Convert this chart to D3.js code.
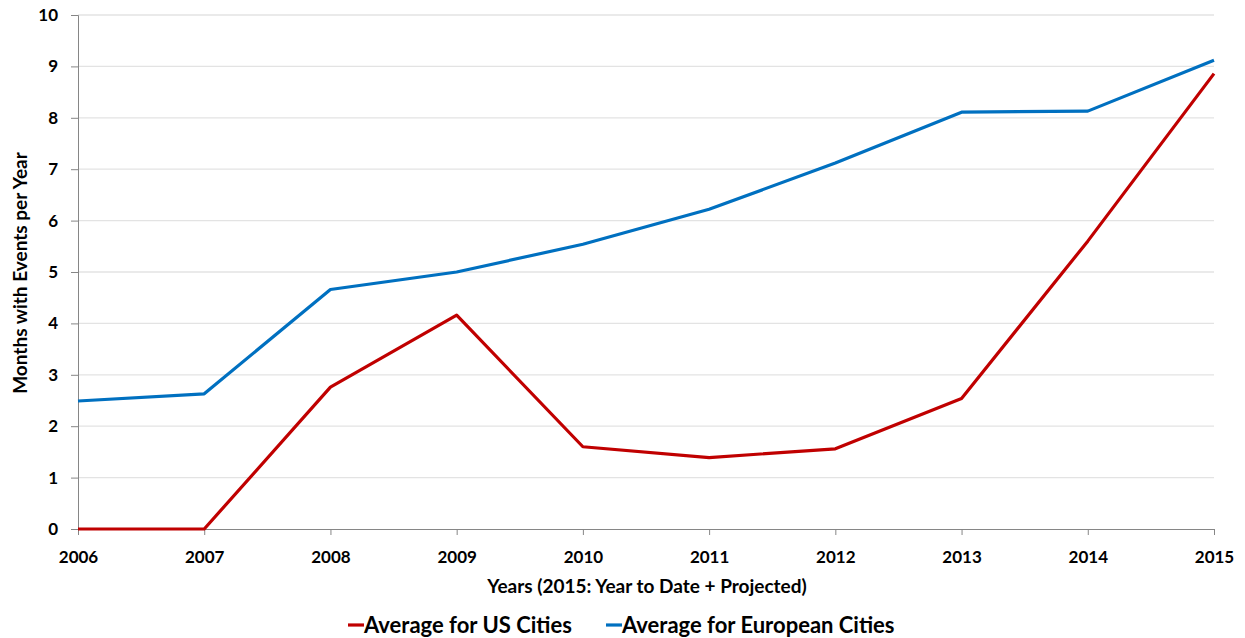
<!DOCTYPE html>
<html>
<head>
<meta charset="utf-8">
<script src="https://cdn.jsdelivr.net/npm/d3@7"></script>
<style>
  body { margin: 0; background: #fff; }
  svg { display: block; font-family: Lato, "Open Sans", sans-serif; font-weight: bold; }
</style>
</head>
<body>
<svg id="chart" width="1245" height="638"></svg>
<script>
// Years on the x axis
const years = [2006, 2007, 2008, 2009, 2010, 2011, 2012, 2013, 2014, 2015];
// Average months per year with events
const usCities = [0, 0, 2.76, 4.16, 1.60, 1.39, 1.56, 2.54, 5.60, 8.86];
const europeanCities = [2.49, 2.63, 4.66, 5.00, 5.54, 6.22, 7.12, 8.11, 8.13, 9.12];
const yTicks = [0, 1, 2, 3, 4, 5, 6, 7, 8, 9, 10];
const seriesNames = ["Average for US Cities", "Average for European Cities"];
const seriesColors = ["#C00000", "#0070C0"];

const svg = d3.select("#chart");
const plotLeft = 78, plotRight = 1214, plotTop = 15, plotBottom = 529;

const x = d3.scaleLinear().domain([2006, 2015]).range([plotLeft, plotRight]);
const y = d3.scaleLinear().domain([0, 10]).range([plotBottom, plotTop]);

// horizontal gridlines
svg.append("g")
  .selectAll("line")
  .data(yTicks.filter(d => d > 0))
  .join("line")
  .attr("x1", plotLeft).attr("x2", plotRight)
  .attr("y1", d => y(d)).attr("y2", d => y(d))
  .attr("stroke", "#e3e3e3").attr("stroke-width", 1.3);

// y axis
const yAxis = svg.append("g")
  .attr("transform", `translate(${plotLeft},0)`)
  .call(d3.axisLeft(y).tickValues(yTicks).tickSize(7).tickPadding(13).tickFormat(d3.format("d")));
yAxis.select(".domain").attr("stroke", "#868686");
yAxis.selectAll(".tick line").attr("stroke", "#868686");
yAxis.selectAll("text").attr("font-size", 17).attr("font-weight", "bold")
  .attr("font-family", "Lato, sans-serif").attr("fill", "#000");

// x axis
const xAxis = svg.append("g")
  .attr("transform", `translate(0,${plotBottom})`)
  .call(d3.axisBottom(x).tickValues(years).tickSize(6).tickPadding(16).tickFormat(d3.format("d")));
xAxis.select(".domain").attr("stroke", "#868686");
xAxis.selectAll(".tick line").attr("stroke", "#868686");
xAxis.selectAll("text").attr("font-size", 17).attr("font-weight", "bold")
  .attr("font-family", "Lato, sans-serif").attr("fill", "#000");

// lines
const line = d3.line().x((d, i) => x(years[i])).y(d => y(d));
[usCities, europeanCities].forEach((vals, k) => {
  svg.append("path")
    .datum(vals)
    .attr("fill", "none")
    .attr("stroke", seriesColors[k])
    .attr("stroke-width", 3.2)
    .attr("stroke-linejoin", "round")
    .attr("d", line);
});

// axis titles
svg.append("text")
  .attr("x", (plotLeft + plotRight) / 2 + 1).attr("y", 593)
  .attr("text-anchor", "middle").attr("font-size", 19)
  .text("Years (2015: Year to Date + Projected)");

svg.append("text")
  .attr("transform", `translate(27,${(plotTop + plotBottom) / 2 + 1}) rotate(-90)`)
  .attr("text-anchor", "middle").attr("font-size", 19)
  .text("Months with Events per Year");

// legend
const legendX = [348, 606];
legendX.forEach((lx, k) => {
  const g = svg.append("g").attr("transform", `translate(${lx},625)`);
  g.append("line").attr("x1", 0).attr("x2", 16).attr("y1", 0).attr("y2", 0)
    .attr("stroke", seriesColors[k]).attr("stroke-width", 3.2);
  g.append("text").attr("x", 16).attr("y", 8).attr("font-size", 22)
    .text(seriesNames[k]);
});
</script>
</body>
</html>
